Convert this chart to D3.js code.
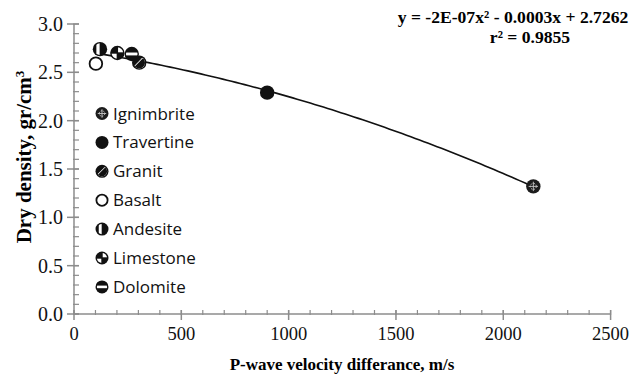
<!DOCTYPE html>
<html>
<head>
<meta charset="utf-8">
<script src="https://cdn.jsdelivr.net/npm/d3@7/dist/d3.min.js"></script>
<style>
  html, body { margin: 0; padding: 0; background: #fff; }
  svg { display: block; }
</style>
</head>
<body>
<svg id="chart" width="643" height="375"></svg>
<script>
// Rock types, their P-wave velocity difference (m/s) and dry density (gr/cm3)
const rocks     = ["Ignimbrite", "Travertine", "Granit", "Basalt", "Andesite", "Limestone", "Dolomite"];
const velocity  = [2140, 900, 304, 102, 121, 202, 269];
const density   = [1.32, 2.29, 2.60, 2.59, 2.74, 2.70, 2.69];
const xTicks    = [0, 500, 1000, 1500, 2000, 2500];
const yTicks    = [0, 0.5, 1.0, 1.5, 2.0, 2.5, 3.0];
const equation  = "y = -2E-07x² - 0.0003x + 2.7262";
const rSquared  = "r² = 0.9855";

const svg = d3.select("#chart");
const x = d3.scaleLinear().domain([0, 2500]).range([74, 610.6]);
const y = d3.scaleLinear().domain([0, 3]).range([314, 24]);
const axisColor = "#8c8c8c";
const serif = "'Liberation Serif', 'Times New Roman', serif";

// ---- axes ----
const axes = svg.append("g");
// minor ticks
axes.selectAll(".xminor").data(d3.range(0, 2501, 100)).join("line")
  .attr("x1", d => x(d)).attr("x2", d => x(d))
  .attr("y1", y(0) - 4).attr("y2", y(0) + 1)
  .attr("stroke", axisColor).attr("stroke-width", 1.2);
axes.selectAll(".yminor").data(d3.range(0, 31).map(i => i / 10)).join("line")
  .attr("x1", x(0) - 1).attr("x2", x(0) + 5)
  .attr("y1", d => y(d)).attr("y2", d => y(d))
  .attr("stroke", axisColor).attr("stroke-width", 1.2);
// major ticks
axes.selectAll(".xmajor").data(xTicks).join("line")
  .attr("x1", d => x(d)).attr("x2", d => x(d))
  .attr("y1", y(0) - 4).attr("y2", y(0) + 6)
  .attr("stroke", axisColor).attr("stroke-width", 1.5);
axes.selectAll(".ymajor").data(yTicks).join("line")
  .attr("x1", x(0) - 7).attr("x2", x(0) + 5)
  .attr("y1", d => y(d)).attr("y2", d => y(d))
  .attr("stroke", axisColor).attr("stroke-width", 1.5);
// axis lines
axes.append("line").attr("x1", x(0)).attr("x2", x(2500)).attr("y1", y(0)).attr("y2", y(0))
  .attr("stroke", axisColor).attr("stroke-width", 1.5);
axes.append("line").attr("x1", x(0)).attr("x2", x(0)).attr("y1", y(0)).attr("y2", y(3))
  .attr("stroke", axisColor).attr("stroke-width", 1.5);

// tick labels
axes.selectAll(".xlab").data(xTicks).join("text")
  .attr("x", d => x(d)).attr("y", 340)
  .attr("text-anchor", "middle")
  .attr("font-family", serif).attr("font-size", 18.5).attr("fill", "#111")
  .text(d => d);
axes.selectAll(".ylab").data(yTicks).join("text")
  .attr("x", 63).attr("y", d => y(d) + 7)
  .attr("text-anchor", "end")
  .attr("font-family", serif).attr("font-size", 20).attr("fill", "#111")
  .text(d => d3.format(".1f")(d));

// axis titles
svg.append("text")
  .attr("x", 342).attr("y", 370)
  .attr("text-anchor", "middle")
  .attr("font-family", serif).attr("font-size", 17).attr("font-weight", "bold")
  .text("P-wave velocity differance, m/s");
const yTitle = svg.append("text")
  .attr("transform", "translate(31,157) rotate(-90)")
  .attr("text-anchor", "middle")
  .attr("font-family", serif).attr("font-size", 21).attr("font-weight", "bold");
yTitle.append("tspan").text("Dry density, gr/cm");
yTitle.append("tspan").attr("dy", -7).attr("font-size", 13).text("3");

// ---- second-order polynomial trendline (least squares on the points) ----
function quadFit(xs, ys) {
  const n = xs.length;
  let s = [0, 0, 0, 0, 0], t = [0, 0, 0];
  for (let i = 0; i < n; i++) {
    const xi = xs[i], yi = ys[i];
    for (let k = 0; k <= 4; k++) s[k] += Math.pow(xi, k);
    for (let k = 0; k <= 2; k++) t[k] += yi * Math.pow(xi, k);
  }
  const M = [[s[0], s[1], s[2], t[0]], [s[1], s[2], s[3], t[1]], [s[2], s[3], s[4], t[2]]];
  for (let i = 0; i < 3; i++) {
    let p = i;
    for (let r = i + 1; r < 3; r++) if (Math.abs(M[r][i]) > Math.abs(M[p][i])) p = r;
    [M[i], M[p]] = [M[p], M[i]];
    for (let r = 0; r < 3; r++) {
      if (r === i) continue;
      const f = M[r][i] / M[i][i];
      for (let c = i; c < 4; c++) M[r][c] -= f * M[i][c];
    }
  }
  const c0 = M[0][3] / M[0][0], c1 = M[1][3] / M[1][1], c2 = M[2][3] / M[2][2];
  return v => c0 + c1 * v + c2 * v * v;
}
const fit = quadFit(velocity, density);
const [xmin, xmax] = d3.extent(velocity);
const curve = d3.range(0, 101).map(i => xmin + (xmax - xmin) * i / 100);
svg.append("path")
  .datum(curve)
  .attr("d", d3.line().x(d => x(d)).y(d => y(fit(d))))
  .attr("fill", "none").attr("stroke", "#111").attr("stroke-width", 1.6);

// ---- marker symbols ----
let clipCount = 0;
function marker(g, type, r) {
  const black = "#111";
  const clipId = "mclip" + (clipCount++);
  g.append("clipPath").attr("id", clipId).append("circle").attr("r", r - 1.4);
  const base = g.append("circle").attr("r", r).attr("fill", black);
  const inner = g.append("g").attr("clip-path", `url(#${clipId})`);
  switch (type) {
    case "Ignimbrite":
      base.attr("fill", "#1c1c1c");
      g.append("circle").attr("r", r * 0.42).attr("fill", "none").attr("stroke", "#c8c8c8")
        .attr("stroke-width", 1).attr("stroke-dasharray", "1.6,1.2");
      g.append("path").attr("d", `M${-r * 0.65},0H${r * 0.65}M0,${-r * 0.65}V${r * 0.65}`)
        .attr("stroke", "#c8c8c8").attr("stroke-width", 0.9);
      break;
    case "Travertine":
      break;
    case "Granit":
      inner.append("path")
        .attr("d", `M${-r * 0.6},${r * 0.35}L${r * 0.35},${-r * 0.6}L${r},${-r}L${r},${r}L${-r},${r}Z`)
        .attr("fill", "#fff");
      inner.append("path")
        .attr("d", `M${-r},${r * 0.9}L${r * 0.9},${-r}L${r},${-r}L${r},${r * 0.1}L${r * 0.1},${r}L${-r},${r}Z`)
        .attr("fill", black);
      break;
    case "Basalt":
      base.attr("r", r - 0.9).attr("fill", "#fff").attr("stroke", black).attr("stroke-width", 1.8);
      break;
    case "Andesite":
      inner.append("rect").attr("x", -r * 0.5).attr("y", -r).attr("width", r * 0.45).attr("height", 2 * r).attr("fill", "#fff");
      break;
    case "Limestone":
      inner.append("rect").attr("x", 0.7).attr("y", -r).attr("width", r).attr("height", r - 0.7).attr("fill", "#fff");
      inner.append("rect").attr("x", -r).attr("y", 0.7).attr("width", r - 0.7).attr("height", r).attr("fill", "#fff");
      break;
    case "Dolomite":
      inner.append("rect").attr("x", -r).attr("y", -r * 0.2).attr("width", 2 * r).attr("height", r * 0.4).attr("fill", "#fff");
      break;
  }
}

// data points
rocks.forEach((name, i) => {
  const g = svg.append("g").attr("transform", `translate(${x(velocity[i])},${y(density[i])})`);
  marker(g, name, 7.2);
});

// ---- legend ----
const legend = svg.append("g");
rocks.forEach((name, i) => {
  const ly = 113.5 + i * 28.9;
  const g = legend.append("g").attr("transform", `translate(102,${ly})`);
  marker(g, name, 6.5);
  legend.append("text")
    .attr("x", 113).attr("y", ly + 6)
    .attr("font-family", "'Open Sans', sans-serif").attr("font-size", 17).attr("fill", "#111")
    .text(name);
});

// ---- equation ----
svg.append("text").attr("x", 513).attr("y", 23)
  .attr("text-anchor", "middle")
  .attr("font-family", serif).attr("font-size", 17.6).attr("font-weight", "bold")
  .text(equation);
svg.append("text").attr("x", 530).attr("y", 43)
  .attr("text-anchor", "middle")
  .attr("font-family", serif).attr("font-size", 17.6).attr("font-weight", "bold")
  .text(rSquared);
</script>
</body>
</html>
